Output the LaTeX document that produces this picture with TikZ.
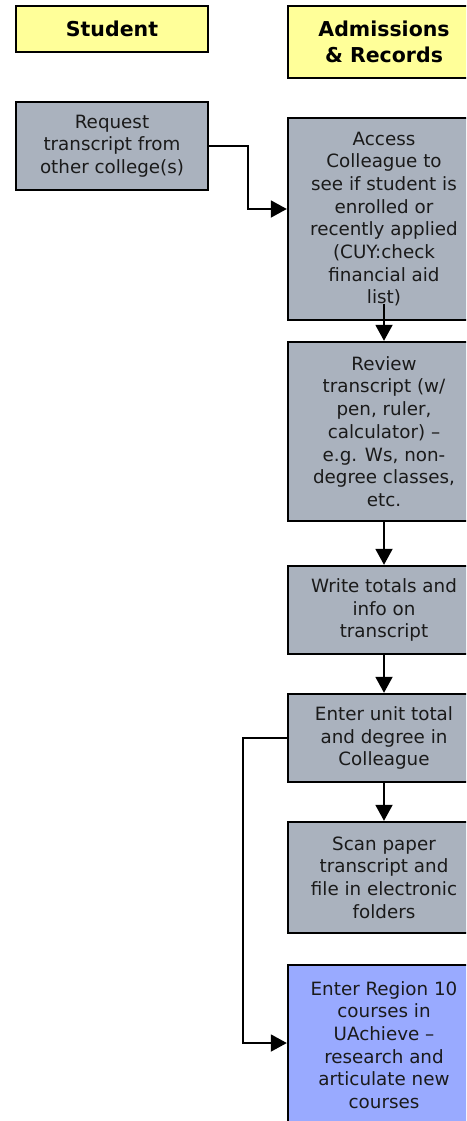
\documentclass[tikz,border=0pt]{standalone}
\usepackage{fontspec}
\setmainfont{DejaVu Sans}
\usetikzlibrary{arrows.meta}
\definecolor{hdr}{HTML}{FFFF99}
\definecolor{proc}{HTML}{AAB2BE}
\definecolor{hilite}{HTML}{99AAFF}
\definecolor{txt}{HTML}{1A1A1A}
\tikzset{
  box/.style={draw=black, line width=2.4pt, minimum width=192pt, inner sep=0pt,
    align=center, text=txt, font=\fontsize{18.3}{22.7}\selectfont},
  procbox/.style={box, fill=proc},
  hdrbox/.style={box, fill=hdr, text=black, font=\fontsize{20.5}{26}\selectfont\bfseries},
  regbox/.style={box, fill=hilite},
  arr/.style={line width=1.9pt, -{Triangle[length=16pt,width=17pt]}},
}
\begin{document}
\begin{tikzpicture}[x=1pt,y=-1pt]
\clip (0,0) rectangle (466,1121);
\fill[white] (0,0) rectangle (466,1121);
\node[hdrbox, minimum height=46pt] (hs) at (112,29) {Student};
\node[hdrbox, minimum height=72pt] (ha) at (384,42) {Admissions\\\& Records};
\node[procbox, minimum height=88pt] (req) at (112,146) {Request\\transcript from\\other college(s)};
\node[procbox, minimum height=202pt] (acc) at (384,219) {Access\\Colleague to\\see if student is\\enrolled or\\recently applied\\(CUY:check\\financial aid\\list)};
\node[procbox, minimum height=179pt] (rev) at (384,431.5) {Review\\transcript (w/\\pen, ruler,\\calculator) –\\e.g. Ws, non-\\degree classes,\\etc.};
\node[procbox, minimum height=88pt] (wri) at (384,610) {Write totals and\\info on\\transcript};
\node[procbox, minimum height=88pt] (ent) at (384,738) {Enter unit total\\and degree in\\Colleague};
\node[procbox, minimum height=111pt] (scn) at (384,877.5) {Scan paper\\transcript and\\file in electronic\\folders};
\node[regbox, minimum height=160pt] (reg) at (384,1045) {Enter Region 10\\courses in\\UAchieve –\\research and\\articulate new\\courses};
\coordinate (bend1) at (248,146);
\coordinate (bend2) at (243,738);
\draw[arr] (req.east) -- (bend1) |- ([yshift=10pt]acc.west);
\draw[arr] ([yshift=17pt]acc.south) -- (rev.north);
\draw[arr] (rev.south) -- (wri.north);
\draw[arr] (wri.south) -- (ent.north);
\draw[arr] (ent.south) -- (scn.north);
\draw[arr] ([xshift=2pt]ent.west) -- (bend2) |- ([yshift=2pt]reg.west);
\end{tikzpicture}
\end{document}
